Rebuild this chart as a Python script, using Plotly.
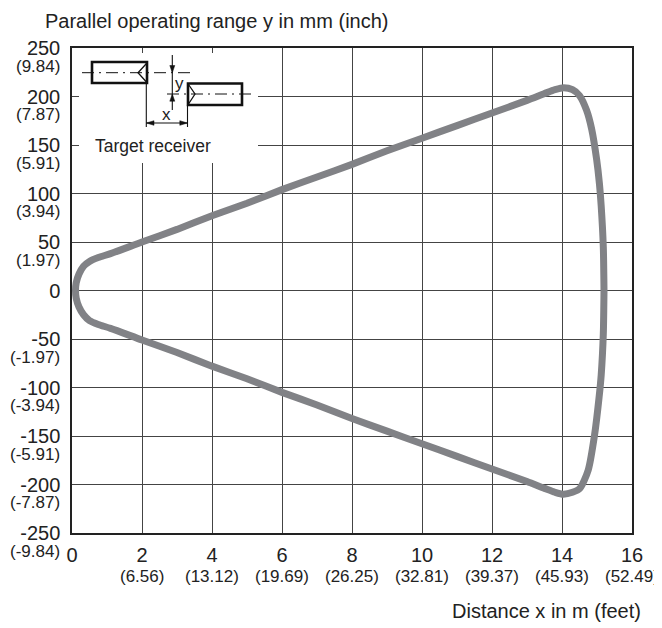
import plotly.graph_objects as go

# ---------------- data ----------------
upper_x = [0.10, 0.12, 0.20, 0.33, 0.50, 0.75, 1.10, 2, 3, 4, 5, 6, 7, 8, 9, 10, 11, 12, 13,
           13.5, 13.8, 14.05, 14.3, 14.5, 14.7, 14.85, 14.99, 15.07, 15.12, 15.18, 15.2]
upper_y = [0, 8, 17, 25, 30, 34, 38, 50, 63, 77, 90, 104, 117, 130, 144, 157, 170, 183, 196,
           203, 207, 209, 207, 201, 186, 166, 135, 110, 87, 45, 0]
lower_x = [15.2, 15.18, 15.12, 15.06, 14.93, 14.75, 14.51, 14.3, 14.04, 13.8, 13.5, 13, 12, 11,
           10, 9, 8, 7, 6, 5, 4, 3, 2, 1.10, 0.75, 0.50, 0.33, 0.20, 0.12, 0.10]
lower_y = [0, -45, -87, -110, -149, -185, -204, -208, -210, -208, -204, -197, -184, -171,
           -158, -145, -132, -118, -105, -91, -78, -64, -51, -39, -35, -31, -25, -17, -8, 0]

x_ticks = [0, 2, 4, 6, 8, 10, 12, 14, 16]
x_tick_text = ["0", "2", "4", "6", "8", "10", "12", "14", "16"]
x_feet = ["", "(6.56)", "(13.12)", "(19.69)", "(26.25)", "(32.81)", "(39.37)", "(45.93)", "(52.49)"]

y_ticks = [-250, -200, -150, -100, -50, 0, 50, 100, 150, 200, 250]
y_tick_text = ["-250", "-200", "-150", "-100", "-50", "0", "50", "100", "150", "200", "250"]
y_inch = ["(-9.84)", "(-7.87)", "(-5.91)", "(-3.94)", "(-1.97)", "", "(1.97)", "(3.94)",
          "(5.91)", "(7.87)", "(9.84)"]

# ---------------- layout constants ----------------
OFF = 8                      # page body margin
W, H = 662 - OFF, 628 - OFF  # figure size
L, R, T, B = 72 - OFF, 30, 48 - OFF, 95
PW, PH = W - L - R, H - T - B
FONT = "Liberation Sans, Arial, sans-serif"
TXT = "#222222"
GRID = "#444444"


def P(px, py):
    """reference page pixel -> paper coordinates"""
    fx, fy = px - OFF, py - OFF
    return (fx - L) / PW, (H - B - fy) / PH


fig = go.Figure()
fig.add_trace(go.Scatter(
    x=upper_x + lower_x, y=upper_y + lower_y, mode="lines",
    line=dict(color="#818286", width=7, shape="spline", smoothing=0.7),
    hoverinfo="skip", showlegend=False))

annotations = []
# inch labels on y axis
for v, t in zip(y_ticks, y_inch):
    if t:
        annotations.append(dict(x=0, xref="paper", y=v, yref="y", text=t, showarrow=False,
                                xanchor="right", yanchor="middle", xshift=-10, yshift=-18,
                                font=dict(family=FONT, size=17, color=TXT)))
# feet labels on x axis
for v, t in zip(x_ticks, x_feet):
    if t:
        annotations.append(dict(x=v, xref="x", y=0, yref="paper", text=t, showarrow=False,
                                xanchor="center", yanchor="middle", yshift=-43,
                                font=dict(family=FONT, size=17, color=TXT)))
# axis titles
ax_, _ = P(43, 17)
annotations.append(dict(x=ax_, y=1 + T / PH, xref="paper", yref="paper",
                        text="Parallel operating range y in mm (inch)", showarrow=False,
                        xanchor="left", yanchor="top",
                        font=dict(family=FONT, size=20, color=TXT)))
bx_, by_ = P(643, 611)
annotations.append(dict(x=bx_, y=by_, xref="paper", yref="paper",
                        text="Distance x in m (feet)", showarrow=False,
                        xanchor="right", yanchor="middle",
                        font=dict(family=FONT, size=20, color=TXT)))
# inset texts
for (px, py, t, s) in [(153, 146, "Target receiver", 17.5), (179.5, 84, "y", 17),
                       (166, 115, "x", 17)]:
    qx, qy = P(px, py)
    annotations.append(dict(x=qx, y=qy, xref="paper", yref="paper", text=t, showarrow=False,
                            xanchor="center", yanchor="middle",
                            font=dict(family=FONT, size=s, color=TXT)))

shapes = []


def rect(x0, y0, x1, y1, **kw):
    a, b = P(x0, y0)
    c, d = P(x1, y1)
    shapes.append(dict(type="rect", xref="paper", yref="paper", x0=a, y0=b, x1=c, y1=d,
                       layer="above", **kw))


def line(x0, y0, x1, y1, width=1.2, dash="solid", color="#111111"):
    a, b = P(x0, y0)
    c, d = P(x1, y1)
    shapes.append(dict(type="line", xref="paper", yref="paper", x0=a, y0=b, x1=c, y1=d,
                       layer="above", line=dict(color=color, width=width, dash=dash)))


def poly(pts, fill=None, width=1.3):
    path = ""
    for i, (px, py) in enumerate(pts):
        qx, qy = P(px, py)
        path += ("M" if i == 0 else "L") + f"{qx},{qy} "
    if fill:
        path += "Z"
    shapes.append(dict(type="path", xref="paper", yref="paper", path=path, layer="above",
                       fillcolor=fill if fill else "rgba(0,0,0,0)",
                       line=dict(color="#111111", width=width if not fill else 0.5)))


# white inset background (interrupts gridlines)
rect(79, 53, 258, 163, fillcolor="white", line=dict(width=0))
# centre lines (dash-dot)
line(82, 72.7, 193, 72.7, width=1, dash="12px,5px,2px,5px")
line(167, 94, 252, 94, width=1, dash="12px,5px,2px,5px")
# boxes
rect(92, 62, 147, 83, fillcolor="rgba(0,0,0,0)", line=dict(color="#111111", width=2.6))
rect(188, 83.5, 242, 105, fillcolor="rgba(0,0,0,0)", line=dict(color="#111111", width=2.6))
# chevrons
poly([(146.7, 63.3), (138, 72.7), (146.7, 82.3)])
poly([(188.5, 84.5), (195, 94), (188.5, 104)])
# vertical dimension
line(172.3, 55, 172.3, 110, width=1.1)
poly([(172.3, 72.7), (169.8, 65.5), (174.8, 65.5)], fill="#111111")
poly([(172.3, 94), (169.8, 101.2), (174.8, 101.2)], fill="#111111")
# extension lines
line(146.3, 83, 146.3, 127, width=1.1)
line(187.5, 105, 187.5, 127, width=1.1)
# horizontal dimension
line(146.3, 123, 187.5, 123, width=1.1)
poly([(146.3, 123), (154, 120.7), (154, 125.3)], fill="#111111")
poly([(187.5, 123), (179.8, 120.7), (179.8, 125.3)], fill="#111111")

fig.update_layout(
    width=W, height=H, margin=dict(l=L, r=R, t=T, b=B, autoexpand=False),
    paper_bgcolor="white", plot_bgcolor="white",
    font=dict(family=FONT, size=20, color=TXT),
    xaxis=dict(range=[0, 16], tickmode="array", tickvals=x_ticks, ticktext=x_tick_text,
               showgrid=True, gridcolor=GRID, gridwidth=1, zeroline=False,
               showline=True, linecolor="#222222", linewidth=1.5, mirror=True,
               ticks="", ticklabelstandoff=3, tickfont=dict(size=20, family=FONT, color=TXT)),
    yaxis=dict(range=[-250, 250], tickmode="array", tickvals=y_ticks, ticktext=y_tick_text,
               showgrid=True, gridcolor=GRID, gridwidth=1, zeroline=False,
               showline=True, linecolor="#222222", linewidth=1.5, mirror=True,
               ticks="", ticklabelstandoff=6, tickfont=dict(size=20, family=FONT, color=TXT)),
    annotations=annotations, shapes=shapes, showlegend=False,
)

fig.write_html("out.html")
